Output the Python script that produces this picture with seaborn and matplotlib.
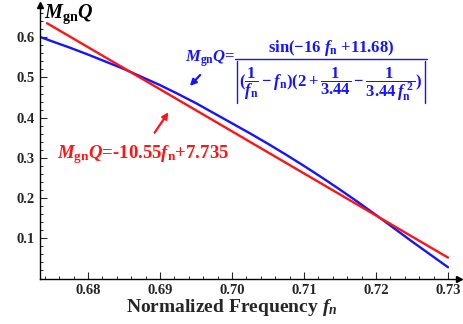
import numpy as np
import pandas as pd
import matplotlib
matplotlib.use("Agg")
import matplotlib.pyplot as plt
from matplotlib.lines import Line2D
import seaborn as sns

# Curve sampled from the analytic expression for M_gn*Q
fn_curve = [0.6733, 0.6750, 0.6775, 0.6800, 0.6825, 0.6850, 0.6875, 0.6900,
            0.6925, 0.6950, 0.6975, 0.7000, 0.7025, 0.7050, 0.7075, 0.7100,
            0.7125, 0.7150, 0.7175, 0.7200, 0.7225, 0.7250, 0.7275, 0.7300]
mq_curve = [0.601, 0.590, 0.574, 0.557, 0.539, 0.521, 0.501, 0.481,
            0.459, 0.436, 0.411, 0.386, 0.361, 0.335, 0.308, 0.280,
            0.251, 0.221, 0.190, 0.158, 0.125, 0.092, 0.060, 0.028]

# Linear fit endpoints
fn_fit = [0.6743, 0.730]
mq_fit = [0.635, 0.052]

x_major = [0.68, 0.69, 0.70, 0.71, 0.72, 0.73]
y_major = [0.1, 0.2, 0.3, 0.4, 0.5, 0.6]

BLUE = "#1414ff"
RED = "#ff1414"
W, H = 463, 324
MINUS = "\u2212"

sns.set_style("ticks")
plt.rcParams["font.family"] = ["Liberation Serif", "DejaVu Serif"]
plt.rcParams["font.weight"] = "bold"
plt.rcParams["mathtext.fontset"] = "custom"
plt.rcParams["mathtext.rm"] = "Liberation Serif:bold"
plt.rcParams["mathtext.bf"] = "Liberation Serif:bold"
plt.rcParams["mathtext.it"] = "Liberation Serif:italic:bold"
plt.rcParams["mathtext.default"] = "it"

fig = plt.figure(figsize=(W / 100, H / 100), dpi=100)
ax = fig.add_axes([40 / W, 1 - 278.5 / H, 418.8 / W, 273.4 / H])


def fx(px):
    return px / W


def fy(py):
    return 1 - py / H


curve_df = pd.DataFrame({"fn": fn_curve, "mq": mq_curve})
fit_df = pd.DataFrame({"fn": fn_fit, "mq": mq_fit})
sns.lineplot(data=curve_df, x="fn", y="mq", ax=ax, color=BLUE, lw=1.7,
             estimator=None, sort=True)
sns.lineplot(data=fit_df, x="fn", y="mq", ax=ax, color=RED, lw=1.7,
             estimator=None, sort=True)

ax.set_xlim(0.67333, 0.7315)
ax.set_ylim(0.0, 0.68)

for side in ("top", "right"):
    ax.spines[side].set_visible(False)
for side in ("left", "bottom"):
    ax.spines[side].set_linewidth(1.0)
    ax.spines[side].set_color("black")

# arrow heads at the axis ends
ax.plot(1, 0, ">", color="black", ms=5, transform=ax.transAxes, clip_on=False)
ax.plot(0, 1, "^", color="black", ms=5, transform=ax.transAxes, clip_on=False)

ax.set_xticks(x_major)
ax.set_xticklabels([f"{v:.2f}" for v in x_major])
ax.set_xticks(np.arange(0.674, 0.7305, 0.002), minor=True)
ax.set_yticks(y_major)
ax.set_yticklabels([f"{v:.1f}" for v in y_major])
ax.set_yticks(np.arange(0.02, 0.675, 0.02), minor=True)
ax.tick_params(which="major", direction="in", length=5, width=0.8,
               labelsize=10.5, pad=4)
ax.tick_params(which="minor", direction="in", length=2.5, width=0.7)
for lab in ax.get_xticklabels() + ax.get_yticklabels():
    lab.set_fontweight("bold")

ax.set_xlabel(r"Normalized Frequency $f_n$", fontsize=14, fontweight="bold")
ax.xaxis.set_label_coords((232 - 40) / 418.8, -(297 - 278.5) / 273.4)
ax.set_ylabel("")
fig.text(fx(44), fy(3), r"$M_{\mathrm{gn}}Q$", fontsize=14.5,
         ha="left", va="top", color="black")

# annotation for the analytic curve: left side, numerator, bar, |denominator|
fig.text(fx(185), fy(59), r"$M_{\mathrm{gn}}Q\text{=}$", color=BLUE,
         fontsize=12, ha="left", va="center")
numerator = (r"$\text{sin(" + MINUS + r"16 }f_{\mathrm{n}}\text{ +11.68)}$")
fig.text(fx(331), fy(48.5), numerator,
         color=BLUE, fontsize=12, ha="center", va="center")
fig.add_artist(Line2D([fx(235), fx(427)], [fy(59), fy(59)], color=BLUE, lw=1.0))
for bx in (237, 425):
    fig.add_artist(Line2D([fx(bx), fx(bx)], [fy(61), fy(103)], color=BLUE,
                          lw=1.0))
fig.text(fx(331), fy(84),
         r"$(\dfrac{\mathrm{1}}{f_{\mathrm{n}}}-f_{\mathrm{n}})(\mathrm{2}+"
         r"\dfrac{\mathrm{1}}{\mathrm{3.44}}-\dfrac{\mathrm{1}}"
         r"{\mathrm{3.44}\,f_{\mathrm{n}}^{\ \mathrm{2}}})$",
         color=BLUE, fontsize=12, ha="center", va="center")
ax.annotate("", xy=(0.68 + (188 - 88) / 7200, (278.5 - 88) / 402),
            xytext=(0.68 + (202 - 88) / 7200, (278.5 - 73) / 402),
            arrowprops=dict(arrowstyle="-|>", color=BLUE, lw=1.6,
                            mutation_scale=9))

# annotation for the linear fit
fig.text(fx(57), fy(155),
         r"$M_{\mathrm{gn}}Q\text{=-10.55}f_{\mathrm{n}}\text{+7.735}$",
         color=RED, fontsize=13.5, ha="left", va="center")
ax.annotate("", xy=(0.68 + (170 - 88) / 7200, (278.5 - 110) / 402),
            xytext=(0.68 + (153 - 88) / 7200, (278.5 - 135) / 402),
            arrowprops=dict(arrowstyle="-|>", color=RED, lw=1.6,
                            mutation_scale=9))

fig.savefig("out.png", dpi=100)
